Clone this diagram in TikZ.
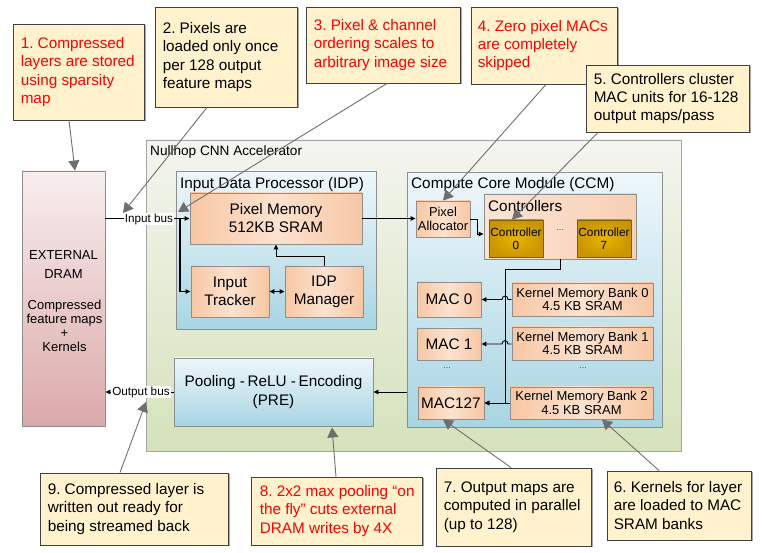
\documentclass[tikz,border=0pt]{standalone}
\usepackage{fontspec}
\setmainfont{Liberation Sans}
\usetikzlibrary{arrows.meta,shadows,calc}
\definecolor{callfill}{HTML}{FFF2CC}
\definecolor{arrgray}{HTML}{6E6E6E}
\definecolor{boxgray}{HTML}{8E8E8E}
\definecolor{greentop}{HTML}{F4F5EF}
\definecolor{greenbot}{HTML}{D5E2BB}
\definecolor{bluetop}{HTML}{EEF7FB}
\definecolor{bluebot}{HTML}{A8D5E3}
\definecolor{pinktop}{HTML}{F8EEEE}
\definecolor{pinkbot}{HTML}{DCA9A9}
\definecolor{peachA}{HTML}{F7C7A4}
\definecolor{peachB}{HTML}{FCE2CF}
\definecolor{ctlA}{HTML}{FBE4D5}
\definecolor{ctlB}{HTML}{F8D0B4}
\definecolor{goldin}{HTML}{E8B400}
\definecolor{goldout}{HTML}{C99600}
\definecolor{goldline}{HTML}{7F6000}
\begin{document}
\frenchspacing
\begin{tikzpicture}[x=1pt,y=-1pt,
  every node/.style={inner sep=0pt},
  callbox/.style={draw=black!75, fill=callfill, line width=0.9pt,
    general shadow={fill=black!35, shadow xshift=1.5pt, shadow yshift=-1.5pt}},
  calltext/.style={anchor=west, align=left, font=\fontsize{15.3}{18.3}\selectfont},
  redtxt/.style={text=red},
  callarr/.style={draw=arrgray, line width=0.9pt, -{Triangle[length=10pt,width=11pt]}},
  arr/.style={draw=black, line width=0.9pt, -{Triangle[length=5pt,width=4.5pt]}},
  greenbox/.style={draw=boxgray!80, line width=0.9pt, top color=greentop, bottom color=greenbot},
  bluebox/.style={draw=boxgray, line width=0.9pt, top color=bluetop, bottom color=bluebot},
  pinkbox/.style={draw=boxgray, line width=0.9pt, top color=pinktop, bottom color=pinkbot},
  peachbox/.style={draw=boxgray, line width=0.9pt, left color=peachA, right color=peachA, middle color=peachB, align=center},
  ctlbox/.style={draw=boxgray, line width=0.9pt, left color=ctlA, right color=ctlB},
  goldbox/.style={draw=goldline, line width=0.9pt, inner color=goldin, outer color=goldout, align=center,
    font=\fontsize{11.8}{12.8}\selectfont},
  bigf/.style={font=\fontsize{15.3}{18}\selectfont},
  midf/.style={font=\fontsize{13}{13.5}\selectfont},
  buslabel/.style={fill=white, inner xsep=1pt, inner ysep=1pt, font=\fontsize{11.7}{12}\selectfont},
  dotsf/.style={font=\fontsize{9}{9}\selectfont, text=black!70}
]
\useasboundingbox (0,0) rectangle (764,553);

% ---------- large containers ----------
\node[greenbox, minimum width=535pt, minimum height=311pt] (nullhop) at (413.5,295.5) {};
\node[anchor=base west, font=\fontsize{13.6}{14}\selectfont] (nulllbl) at (150,156) {Nullhop CNN Accelerator};

\node[pinkbox, minimum width=83pt, minimum height=255pt] (dram) at (63.5,298.5) {};
\node[align=center, font=\fontsize{13}{19}\selectfont] (dramt1) at (63.5,265) {EXTERNAL\\DRAM};
\node[align=center, font=\fontsize{13}{14}\selectfont] (dramt2) at (64.5,326) {Compressed\\feature maps\\+\\Kernels};

\node[bluebox, minimum width=200pt, minimum height=158pt] (idp) at (276,250) {};
\node[anchor=base west, bigf] (idplbl) at (180,189) {Input Data Processor (IDP)};

\node[bluebox, minimum width=255pt, minimum height=255pt] (ccm) at (534.5,299.5) {};
\node[anchor=base west, bigf] (ccmlbl) at (411,189) {Compute Core Module (CCM)};

\node[bluebox, minimum width=199pt, minimum height=68pt, align=center, font=\fontsize{15.3}{19}\selectfont] (pre) at (273.5,392) {Pooling -\,ReLU -\,Encoding\\(PRE)};

% ---------- IDP content ----------
\node[peachbox, bigf, minimum width=172pt, minimum height=51pt] (pm) at (276,218.5) {Pixel Memory\\512KB SRAM};
\node[peachbox, bigf, minimum width=78pt, minimum height=51pt] (it) at (230,291.5) {Input\\Tracker};
\node[peachbox, bigf, minimum width=78pt, minimum height=51pt] (idpm) at (324,291.5) {IDP\\Manager};

% ---------- CCM content ----------
\node[peachbox, font=\fontsize{12.9}{14}\selectfont, minimum width=54pt, minimum height=36pt] (pa) at (443,219) {Pixel\\Allocator};
\node[ctlbox, minimum width=152pt, minimum height=65pt] (ctrls) at (560,226.5) {};
\node[anchor=base west, bigf] (ctrlslbl) at (488,212) {Controllers};
\node[goldbox, minimum width=54pt, minimum height=37pt] (ctl0) at (516,238.5) {Controller\\0};
\node[goldbox, minimum width=54pt, minimum height=37pt] (ctl7) at (604,238.5) {Controller\\7};
\node[dotsf] (cdots) at (560,230) {...};

\node[peachbox, bigf, minimum width=64pt, minimum height=35pt] (mac0) at (449,299.5) {MAC 0};
\node[peachbox, bigf, minimum width=64pt, minimum height=32pt] (mac1) at (449,344) {MAC 1};
\node[dotsf] (mdots) at (447,368) {...};
\node[peachbox, bigf, minimum width=66pt, minimum height=32pt] (mac127) at (451,403) {MAC127};

\node[peachbox, midf, minimum width=141pt, minimum height=33pt] (kmb0) at (582.5,299.5) {Kernel Memory Bank 0\\4.5 KB SRAM};
\node[peachbox, midf, minimum width=141pt, minimum height=33pt] (kmb1) at (582.5,343.5) {Kernel Memory Bank 1\\4.5 KB SRAM};
\node[dotsf] (kdots) at (583,368) {...};
\node[peachbox, midf, minimum width=143pt, minimum height=32pt] (kmb2) at (581.5,403) {Kernel Memory Bank 2\\4.5 KB SRAM};

% ---------- internal connectors ----------
\draw[arr] (dram.east |- pm.west) -- (pm.west);
\coordinate (jb) at (180,218.5);
\draw[arr, line width=1.4pt] (jb) |- (it.west);
\draw[draw=black, line width=0.9pt, {Triangle[length=5pt,width=4.5pt]}-{Triangle[length=5pt,width=4.5pt]}] (it.east) -- (idpm.west);
\draw[arr] (idpm.north) -- ++(0,-9) -| (pm.south);
\draw[arr] (pm.east) -- (pm.east -| pa.west);
\draw[arr] (pa.east) -- ++(7,0) |- ([yshift=-7.5pt]ctrls.west);

\coordinate (bus) at (505,269);
\draw[arr] (ctrls.south) |- (bus) -- (bus |- mac127.east) -- (mac127.east);
\draw[arr] (kmb2.west) -- (mac127.east);
\coordinate (h0r) at (508,299.5);
\coordinate (h0l) at (502,299.5);
\draw[arr] (kmb0.west) -- (h0r) .. controls (508,295) and (502,295) .. (h0l) -- (mac0.east);
\coordinate (h1r) at (508,344);
\coordinate (h1l) at (502,344);
\draw[arr] (kmb1.west |- mac1.east) -- (h1r) .. controls (508,339.5) and (502,339.5) .. (h1l) -- (mac1.east);

\draw[arr] (ccm.west |- pre.east) -- (pre.east);
\draw[arr] (pre.west) -- (pre.west -| dram.east);

\node[buslabel] (ibus) at (149,219) {Input bus};
\node[buslabel] (obus) at (141,392) {Output bus};

% ---------- callouts ----------
\node[callbox, minimum width=131pt, minimum height=96pt] (c1) at (78.5,72) {};
\node[calltext, redtxt] (c1t) at ([xshift=8pt]c1.west) {1. Compressed\\layers are stored\\using sparsity\\map};
\node[callbox, minimum width=142pt, minimum height=100pt] (c2) at (226,57) {};
\node[calltext] (c2t) at ([xshift=8pt]c2.west) {2. Pixels are\\loaded only once\\per 128 output\\feature maps};
\node[callbox, minimum width=154pt, minimum height=76pt] (c3) at (383,45) {};
\node[calltext, redtxt] (c3t) at ([xshift=8pt]c3.west) {3. Pixel \& channel\\ordering scales to\\arbitrary image size};
\node[callbox, minimum width=146pt, minimum height=77pt] (c4) at (544,45.5) {};
\node[calltext, redtxt] (c4t) at ([xshift=7pt]c4.west) {4. Zero pixel MACs\\are completely\\skipped};
\node[callbox, minimum width=163pt, minimum height=67pt] (c5) at (667.5,98.5) {};
\node[calltext] (c5t) at ([xshift=8pt]c5.west) {5. Controllers cluster\\MAC units for 16-128\\output maps/pass};
\node[callbox, minimum width=144pt, minimum height=69pt] (c6) at (679,505.5) {};
\node[calltext] (c6t) at ([xshift=7pt]c6.west) {6. Kernels for layer\\are loaded to MAC\\SRAM banks};
\node[callbox, minimum width=155pt, minimum height=78pt] (c7) at (513.5,507) {};
\node[calltext] (c7t) at ([xshift=8pt]c7.west) {7. Output maps are\\computed in parallel\\(up to 128)};
\node[callbox, minimum width=171pt, minimum height=68pt] (c8) at (336.5,511) {};
\node[calltext, redtxt] (c8t) at ([xshift=9pt]c8.west) {8. 2x2 max pooling “on\\the fly” cuts external\\DRAM writes by 4X};
\node[callbox, minimum width=188pt, minimum height=72pt] (c9) at (134,509) {};
\node[calltext] (c9t) at ([xshift=8pt]c9.west) {9. Compressed layer is\\written out ready for\\being streamed back};

% ---------- callout connectors ----------
\coordinate (t2) at (123,213);
\coordinate (t3) at (178,212);
\coordinate (t9) at (146,402);
\draw[callarr] ([xshift=-9.5pt]c1.south) -- ([xshift=11.5pt]dram.north);
\draw[callarr] ([xshift=-19pt]c2.south) -- (t2);
\draw[callarr] ([xshift=4pt]c3.south) -- (t3);
\draw[callarr] ([xshift=2pt]c4.south) -- (pa.north);
\draw[callarr] ([xshift=-69.5pt]c5.south) -- ([xshift=-4pt]ctl0.north);
\draw[callarr] ([xshift=-20pt]c6.north) -- ([xshift=20.5pt]kmb2.south);
\draw[callarr] ([xshift=-2.5pt]c7.north) -- ([xshift=-8pt]mac127.south);
\draw[callarr] ([xshift=-0.5pt]c8.north) -- ([xshift=58.5pt,yshift=-1pt]pre.south);
\draw[callarr] ([xshift=-14pt]c9.north) -- (t9);
\end{tikzpicture}
\end{document}
